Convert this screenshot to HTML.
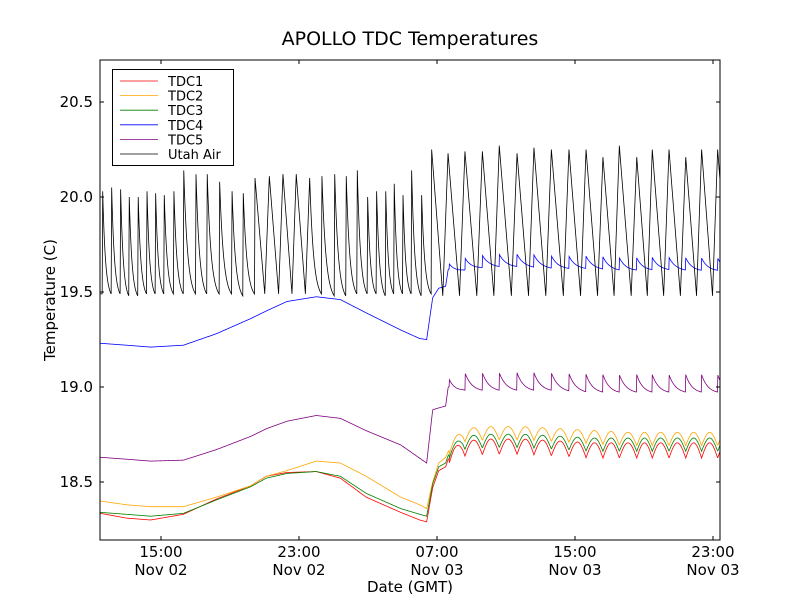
<!DOCTYPE html>
<html><head><meta charset="utf-8"><style>
html,body{margin:0;padding:0;background:#fff;}
svg text{font-family:"DejaVu Sans","Liberation Sans",sans-serif;}
</style></head><body>
<svg id="chart" width="800" height="600" viewBox="0 0 800 600" xmlns="http://www.w3.org/2000/svg">
<rect x="0" y="0" width="800" height="600" fill="#fff"/>
<defs><clipPath id="plotclip"><rect x="100" y="60" width="620" height="480"/></clipPath></defs>
<text x="410" y="45" font-size="19" text-anchor="middle">APOLLO TDC Temperatures</text>
<text x="55" y="300" font-size="15" text-anchor="middle" transform="rotate(-90 55 300)">Temperature (C)</text>
<text x="410" y="592" font-size="15" text-anchor="middle">Date (GMT)</text>
<g id="series" clip-path="url(#plotclip)"></g>
<rect x="100" y="60" width="620" height="480" fill="none" stroke="#000" stroke-width="1"/>
<g id="axes"></g>
<g>
<rect x="112.5" y="69.5" width="121" height="96" fill="#fff" stroke="#000" stroke-width="1"/>
</g>
<g id="legend-items"></g>
</svg>
<script>
// ---- data ----
const yTicks = [18.5, 19.0, 19.5, 20.0, 20.5];
const yTickLabels = ["18.5", "19.0", "19.5", "20.0", "20.5"];
const xTicks = [15, 23, 31, 39, 47]; // hours since Nov 02 00:00
const xTickTimes = ["15:00", "23:00", "07:00", "15:00", "23:00"];
const xTickDates = ["Nov 02", "Nov 02", "Nov 03", "Nov 03", "Nov 03"];
const seriesNames = ["TDC1", "TDC2", "TDC3", "TDC4", "TDC5", "Utah Air"];
const seriesColors = ["#ff0000", "#ffa500", "#008000", "#0000ff", "#800080", "#000000"];

const times = [11.5, 13, 14.4, 16.3, 18.2, 20.2, 21.1, 22.3, 24.0, 25.4, 26.9, 28.9, 30.0, 30.4, 30.75, 31.1, 31.5, 31.65, 32.5, 34, 36, 38, 40, 42, 44, 46, 47.4];
const tdc1 = [18.335, 18.31, 18.30, 18.33, 18.41, 18.48, 18.53, 18.55, 18.555, 18.52, 18.42, 18.34, 18.30, 18.29, 18.47, 18.56, 18.58, 18.62, 18.68, 18.69, 18.69, 18.68, 18.67, 18.67, 18.67, 18.67, 18.67];
const tdc2 = [18.40, 18.38, 18.37, 18.37, 18.42, 18.48, 18.53, 18.56, 18.61, 18.60, 18.53, 18.42, 18.38, 18.36, 18.50, 18.60, 18.63, 18.66, 18.75, 18.76, 18.76, 18.75, 18.74, 18.73, 18.73, 18.73, 18.73];
const tdc3 = [18.34, 18.33, 18.32, 18.335, 18.405, 18.475, 18.52, 18.545, 18.555, 18.53, 18.44, 18.36, 18.33, 18.32, 18.49, 18.58, 18.60, 18.64, 18.71, 18.72, 18.72, 18.71, 18.70, 18.70, 18.70, 18.70, 18.70];
const tdc4 = [19.23, 19.22, 19.21, 19.22, 19.28, 19.36, 19.40, 19.45, 19.475, 19.46, 19.39, 19.30, 19.255, 19.25, 19.47, 19.52, 19.53, 19.62, 19.64, 19.66, 19.66, 19.65, 19.65, 19.64, 19.645, 19.64, 19.64];
const tdc5 = [18.63, 18.62, 18.61, 18.615, 18.67, 18.74, 18.78, 18.82, 18.85, 18.835, 18.77, 18.695, 18.625, 18.60, 18.88, 18.89, 18.90, 19.0, 19.02, 19.02, 19.02, 19.02, 19.01, 19.01, 19.01, 19.01, 19.01];
const rippleAmp = [0.08, 0.07, 0.07, 0.07, 0.10];

const airPeakTimes = [11.62, 12.14, 12.66, 13.16, 13.68, 14.19, 14.69, 15.19, 15.75, 16.32, 17.03, 17.68, 18.40, 19.12, 19.77, 20.45, 21.28, 22.07, 22.84, 23.62, 24.33, 25.07, 25.74, 26.38, 26.98, 27.50, 28.03, 28.52, 29.03, 29.53, 30.11,
  30.69, 31.64, 32.62, 33.63, 34.61, 35.64, 36.62, 37.63, 38.65, 39.64, 40.62, 41.57, 42.58, 43.48, 44.45, 45.42, 46.34, 47.27];
const airPeakValues = [20.03, 20.05, 20.04, 20.0, 20.0, 20.03, 20.02, 20.01, 20.03, 20.14, 20.12, 20.12, 20.08, 20.03, 20.02, 20.10, 20.11, 20.12, 20.12, 20.10, 20.11, 20.12, 20.11, 20.14, 20.0, 20.03, 20.03, 20.07, 20.01, 20.14, 20.01,
  20.25, 20.23, 20.24, 20.24, 20.27, 20.23, 20.26, 20.25, 20.25, 20.25, 20.21, 20.27, 20.21, 20.25, 20.25, 20.21, 20.25, 20.25];
const airTroughValues = [19.49, 19.49, 19.48, 19.48, 19.49, 19.49, 19.49, 19.49, 19.49, 19.49, 19.49, 19.49, 19.49, 19.48, 19.49, 19.49, 19.49, 19.49, 19.49, 19.49, 19.48, 19.48, 19.49, 19.49, 19.49, 19.48, 19.49, 19.49, 19.49, 19.48, 19.49,
  19.48, 19.48, 19.48, 19.48, 19.48, 19.48, 19.48, 19.48, 19.48, 19.48, 19.48, 19.48, 19.48, 19.48, 19.48, 19.48, 19.48, 19.48];

// ---- scales ----
const T0 = 11.464, PXH = 17.25;
function xs(t){ return 100 + (t - T0) * PXH; }
function ys(v){ return 197 + (20 - v) * 190; }
const NS = "http://www.w3.org/2000/svg";
function mk(tag, attrs, parent){ const e=document.createElementNS(NS,tag); for(const k in attrs) e.setAttribute(k,attrs[k]); parent.appendChild(e); return e; }

function interp(ts, vs, t){
  if (t <= ts[0]) return vs[0];
  for (let i=1;i<ts.length;i++) if (t <= ts[i]) { const f=(t-ts[i-1])/(ts[i]-ts[i-1]); return vs[i-1]+f*(vs[i]-vs[i-1]); }
  return vs[vs.length-1];
}
function ripplePhase(t){
  for (let i=0;i<airPeakTimes.length-1;i++){
    if (t>=airPeakTimes[i] && t<airPeakTimes[i+1]) return (t-airPeakTimes[i])/(airPeakTimes[i+1]-airPeakTimes[i]);
  }
  return (t-airPeakTimes[airPeakTimes.length-1])/0.95 % 1;
}

const seriesG = document.getElementById('series');
const tdcData = [tdc1, tdc2, tdc3, tdc4, tdc5];
tdcData.forEach((vals, si) => {
  let d = "";
  for (let t = 11.4; t <= 47.5; t += 0.02) {
    let v = interp(times, vals, t);
    if (t > 31.7) {
      const f = ripplePhase(t);
      if (si < 3) v += rippleAmp[si] * (Math.sin(Math.PI * f) - 0.55);
      else v += rippleAmp[si] * (Math.exp(-2.5 * f) - 0.45);
    }
    d += (d ? "L" : "M") + xs(t).toFixed(2) + "," + ys(v).toFixed(2);
  }
  const p = mk('path', {d:d, fill:'none', stroke:seriesColors[si], 'stroke-width':'0.8'}, seriesG);
  
  
});

// Utah Air
(function(){
  let d = "M" + xs(11.4).toFixed(2) + "," + ys(airTroughValues[0]).toFixed(2) + "L" + xs(airPeakTimes[0]-0.03).toFixed(2) + "," + ys(airTroughValues[0]).toFixed(2);
  for (let i=0;i<airPeakTimes.length;i++){
    const tp = airPeakTimes[i], pv = airPeakValues[i], tv = airTroughValues[i];
    const tn = i+1<airPeakTimes.length ? airPeakTimes[i+1] : tp + 0.95;
    const P = tn - tp;
    const fast = P < 0.75;
    const ttr = fast ? tn - 0.03 : tp + 0.68 * P;
    d += "L" + xs(tp).toFixed(2) + "," + ys(pv).toFixed(2);
    const N = 20;
    for (let k=1;k<=N;k++){
      const f = k/N;
      let frac;
      if (fast) { const kk=3; frac = (Math.exp(-kk*f)-Math.exp(-kk))/(1-Math.exp(-kk)); }
      else frac = 1 - f;
      const t = tp + f*(ttr-tp);
      d += "L" + xs(t).toFixed(2) + "," + ys(tv + (pv-tv)*frac).toFixed(2);
    }
  }
  const p = mk('path', {d:d, fill:'none', stroke:'#000', 'stroke-width':'0.8'}, seriesG);
  
  
})();

// axes
const ax = document.getElementById('axes');
yTicks.forEach((v,i)=>{
  const y = ys(v);
  mk('line',{x1:100,x2:104,y1:y,y2:y,stroke:'#000'},ax);
  mk('line',{x1:716,x2:720,y1:y,y2:y,stroke:'#000'},ax);
  const tx = mk('text',{x:93,y:y+5,'font-size':'15','text-anchor':'end'},ax);
  tx.textContent = yTickLabels[i];
  
  
});
xTicks.forEach((t,i)=>{
  const x = xs(t);
  mk('line',{x1:x,x2:x,y1:536,y2:540,stroke:'#000'},ax);
  mk('line',{x1:x,x2:x,y1:60,y2:64,stroke:'#000'},ax);
  const a = mk('text',{x:x,y:557,'font-size':'15','text-anchor':'middle'},ax);
  a.textContent = xTickTimes[i];
  
  
  const b = mk('text',{x:x,y:575,'font-size':'15','text-anchor':'middle'},ax);
  b.textContent = xTickDates[i];
  
  
});

// legend
const lg = document.getElementById('legend-items');
seriesNames.forEach((n,i)=>{
  const y = 81 + i*14.6;
  const g = mk('g',{},lg);
  
  
  mk('line',{x1:120,x2:158,y1:y,y2:y,stroke:seriesColors[i],'stroke-width':'0.8'},g);
  const t = mk('text',{x:168,y:y+5,'font-size':'13'},g);
  t.textContent = n;
});
</script>
</body></html>
